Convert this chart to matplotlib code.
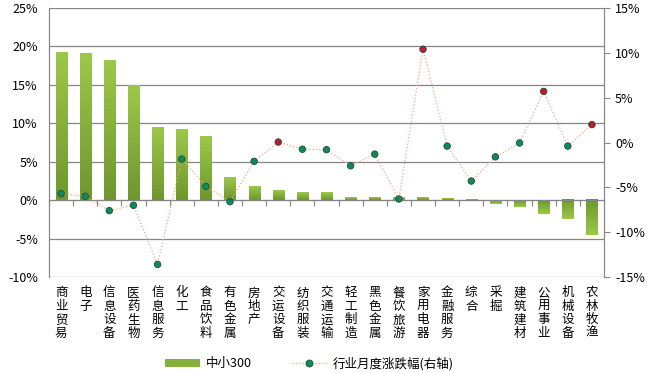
import matplotlib.pyplot as plt
import numpy as np
from matplotlib.colors import LinearSegmentedColormap
from matplotlib.patches import Patch
from matplotlib.lines import Line2D
from matplotlib.transforms import blended_transform_factory

plt.rcParams['font.family'] = ['Noto Sans CJK SC', 'DejaVu Sans']

# data
industries = ['商业贸易', '电子', '信息设备', '医药生物', '信息服务', '化工', '食品饮料',
              '有色金属', '房地产', '交运设备', '纺织服装', '交通运输', '轻工制造',
              '黑色金属', '餐饮旅游', '家用电器', '金融服务', '综合', '采掘',
              '建筑建材', '公用事业', '机械设备', '农林牧渔']
zx300 = [19.2, 19.0, 18.1, 14.9, 9.4, 9.2, 8.2, 2.9, 1.7, 1.2, 1.0, 1.0, 0.35,
         0.35, 0.3, 0.3, 0.2, 0.05, -0.45, -0.85, -1.8, -2.5, -4.6]
monthly = [-5.7, -6.0, -7.6, -7.0, -13.6, -1.85, -4.9, -6.6, -2.1, 0.05, -0.75,
           -0.8, -2.6, -1.3, -6.3, 10.4, -0.4, -4.3, -1.6, -0.05, 5.7, -0.4, 2.0]

left_ticks = [-10, -5, 0, 5, 10, 15, 20, 25]
right_ticks = [-15, -10, -5, 0, 5, 10, 15]

fig = plt.figure(figsize=(6.5, 3.73), dpi=100)
ax = fig.add_axes([49 / 650, 1 - 277 / 373, 555 / 650, 269 / 373])
ax2 = ax.twinx()

grid_c = '#868686'
x = np.arange(len(industries))
bw = 0.46

# bars with a vertical gradient: light at the far end, dark at zero
cmap = LinearSegmentedColormap.from_list('g', ['#6E972E', '#9CC84A'])
grad = np.linspace(0, 1, 64).reshape(-1, 1)
for i, v in enumerate(zx300):
    if v >= 0:
        img = grad[::-1]
        ext = [i - bw / 2, i + bw / 2, 0, v]
    else:
        img = grad
        ext = [i - bw / 2, i + bw / 2, v, 0]
    ax.imshow(img, extent=ext, origin='upper', cmap=cmap, aspect='auto',
              interpolation='bilinear', zorder=2)

ax.set_xlim(-0.5, len(industries) - 0.5)
ax.set_ylim(-10, 25)
ax.set_yticks(left_ticks)
ax.set_yticklabels([f'{t}%' for t in left_ticks])
ax.yaxis.grid(True, color=grid_c, lw=0.9, zorder=0)
ax.set_axisbelow(True)

# category axis on the zero line, labels stacked vertically under the plot
ax.spines['bottom'].set_position(('data', 0))
ax.spines['bottom'].set_color(grid_c)
ax.set_xticks(np.arange(len(industries) + 1) - 0.5)
ax.set_xticklabels([])
ax.tick_params(axis='x', direction='out', length=4, color=grid_c)
tr = blended_transform_factory(ax.transData, ax.transAxes)
for i, name in enumerate(industries):
    ax.text(i, -0.035, '\n'.join(name), transform=tr, ha='center', va='top',
            fontsize=9, linespacing=1.05)

for a in (ax, ax2):
    a.spines['top'].set_visible(False)
    a.spines['left'].set_color(grid_c)
    a.spines['right'].set_color(grid_c)
ax2.spines['bottom'].set_visible(False)

ax.tick_params(axis='y', length=0, labelsize=9, pad=8)

# line on the right axis
cols = ['#C0182C' if v > 0 else '#0E8A5C' for v in monthly]
ax2.plot(x, monthly, ls=':', color='#F2A77E', lw=0.9, zorder=3)
ax2.scatter(x, monthly, s=22, c=cols, edgecolors='#1F4E3A', linewidths=0.6, zorder=4)
ax2.set_ylim(-15, 15)
ax2.set_yticks(right_ticks)
ax2.set_yticklabels([f'{t}%' for t in right_ticks])
ax2.tick_params(axis='y', direction='out', length=4, color=grid_c, labelsize=9, pad=4)

handles = [Patch(facecolor='#86B03C', edgecolor='none'),
           Line2D([], [], ls=':', color='#F2A77E', lw=0.9, marker='o', ms=5,
                  markerfacecolor='#0E8A5C', markeredgecolor='#1F4E3A', markeredgewidth=0.6)]
fig.legend(handles, ['中小300', '行业月度涨跌幅(右轴)'], loc='center',
           bbox_to_anchor=(0.476, 0.025), ncol=2, frameon=False, fontsize=9,
           handlelength=2.8, handleheight=0.5, columnspacing=3.2, handletextpad=0.45)

fig.savefig('out.png', dpi=100)
